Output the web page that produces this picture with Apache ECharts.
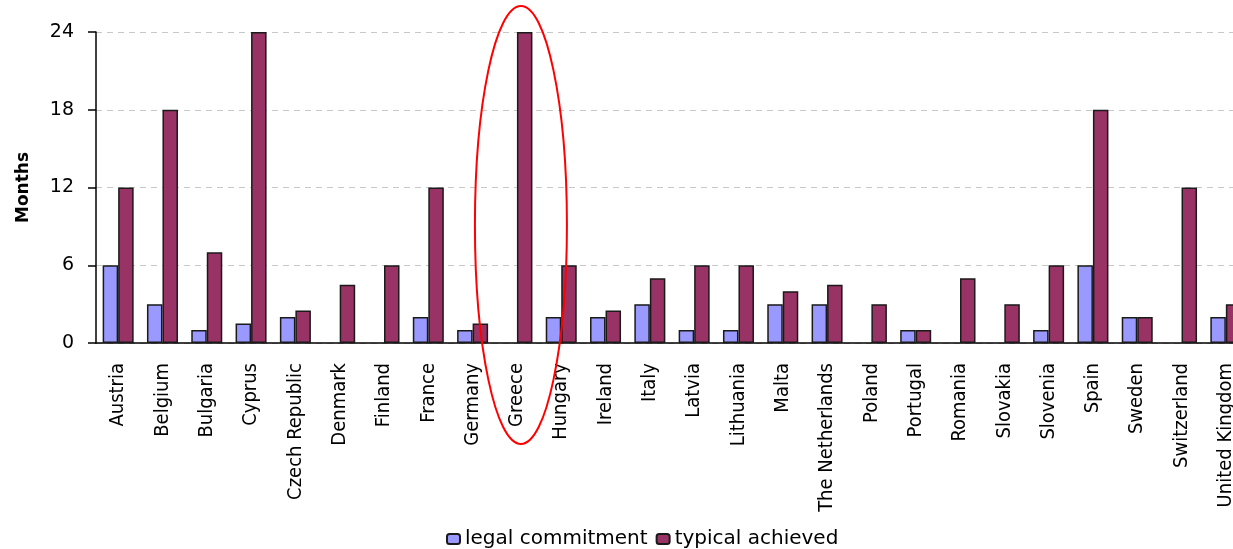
<!DOCTYPE html>
<html><head><meta charset="utf-8">
<script src="https://cdn.jsdelivr.net/npm/echarts@6/dist/echarts.min.js"></script>
<style>html,body{margin:0;padding:0;background:#fff;overflow:hidden;width:1233px;height:549px}#c{width:1250px;height:549px}</style>
</head><body><div id="c"></div>
<script>
const categories = ['Austria','Belgium','Bulgaria','Cyprus','Czech Republic','Denmark','Finland','France','Germany','Greece','Hungary','Ireland','Italy','Latvia','Lithuania','Malta','The Netherlands','Poland','Portugal','Romania','Slovakia','Slovenia','Spain','Sweden','Switzerland','United Kingdom'];
const legalCommitment = [6,3,1,1.5,2,null,null,2,1,null,2,2,3,1,1,3,3,null,1,null,null,1,6,2,null,2];
const typicalAchieved = [12,18,7,24,2.5,4.5,6,12,1.5,24,6,2.5,5,6,6,4,4.5,3,1,5,3,6,18,2,12,3];
const yTicks = [0,6,12,18,24];
const highlighted = 'Greece';

const chart = echarts.init(document.getElementById('c'));
chart.setOption({
  animation:false,
  grid:{left:96, right:2, top:32, bottom:206},
  legend:{
    top:524, left:441, itemWidth:13, itemHeight:10, itemGap:8,
    textStyle:{fontFamily:'DejaVu Sans', fontSize:20, color:'#000'},
    data:['legal commitment','typical achieved']
  },
  xAxis:{
    type:'category', data:categories,
    axisLine:{lineStyle:{color:'#000', width:1.5}},
    axisTick:{length:6, lineStyle:{color:'#000', width:1.5}},
    axisLabel:{rotate:90, interval:0, margin:20, fontFamily:'DejaVu Sans Condensed', fontSize:20, color:'#000'}
  },
  yAxis:{
    type:'value', min:yTicks[0], max:yTicks[yTicks.length-1], interval:6,
    name:'Months', nameLocation:'middle', nameGap:64,
    nameTextStyle:{fontFamily:'DejaVu Sans', fontWeight:'bold', fontSize:17, color:'#000'},
    axisLine:{show:true, lineStyle:{color:'#000', width:1.5}},
    axisTick:{show:true, length:8, lineStyle:{color:'#000', width:1.5}},
    axisLabel:{margin:22, fontFamily:'DejaVu Sans', fontSize:19, color:'#000'},
    splitLine:{lineStyle:{color:'#c8c8c8', type:[6,5], width:1}}
  },
  series:[
    {name:'legal commitment', type:'bar', data:legalCommitment, barGap:'0%', barCategoryGap:'30%',
     itemStyle:{color:'#9999FF', borderColor:'#1a1a1a', borderWidth:1.5}},
    {name:'typical achieved', type:'bar', data:typicalAchieved,
     itemStyle:{color:'#993366', borderColor:'#1a1a1a', borderWidth:1.5}}
  ]
});
const p = chart.convertToPixel({xAxisIndex:0, yAxisIndex:0}, [highlighted, 12]);
chart.setOption({graphic:[{type:'ellipse', shape:{cx:p[0]+4, cy:225, rx:46, ry:219},
  style:{fill:'none', stroke:'#ff0000', lineWidth:2}, z:100}]});
</script></body></html>
